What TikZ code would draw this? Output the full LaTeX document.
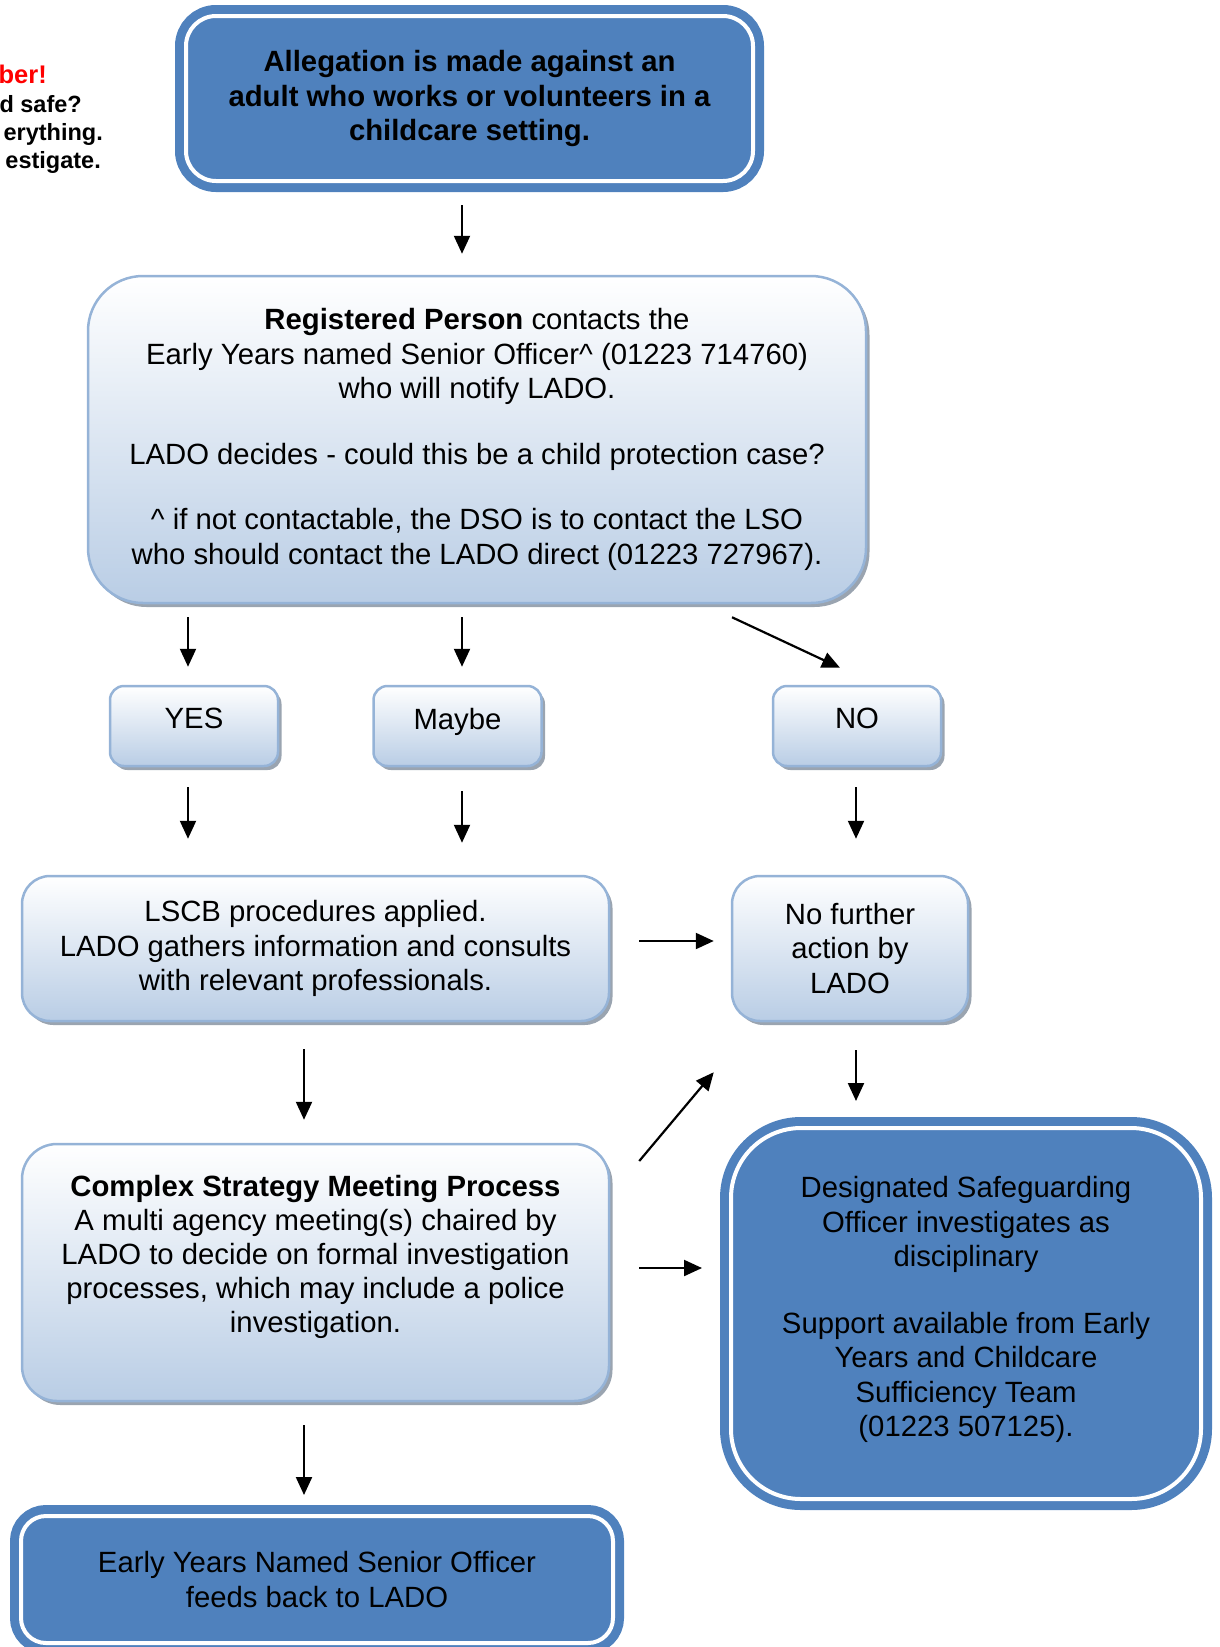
\documentclass[tikz,border=0pt]{standalone}
\usepackage{fontspec}
\setmainfont{Liberation Sans}
\usetikzlibrary{arrows.meta,shadows,calc}
\definecolor{accent}{HTML}{4F81BD}
\definecolor{paleblue}{HTML}{B9CDE5}
\definecolor{edgeblue}{HTML}{95B3D7}
\definecolor{shadegrey}{HTML}{9AA4B0}
\newcommand\bodysize{\fontsize{29.3}{34.5}\selectfont}
\newcommand\notesize{\fontsize{23.5}{28}\selectfont}

\begin{document}
\begin{tikzpicture}[x=1pt,y=-1pt,
  lightbox/.style={draw=edgeblue, line width=2.5pt, top color=white, bottom color=paleblue,
    align=center, inner sep=0pt, font=\bodysize,
    drop shadow={shadow xshift=3.5pt, shadow yshift=-4pt, fill=shadegrey, opacity=1}},
  darkbox/.style={fill=accent, draw=white, line width=4pt,
    preaction={draw=accent, line width=22pt},
    align=center, inner sep=0pt, font=\bodysize},
  arr/.style={line width=2.2pt, -{Triangle[length=18pt,width=16pt]}},
  note/.style={anchor=base east, inner sep=0pt, font=\notesize\bfseries}]

\clip (0,0) rectangle (1220,1647);

% reminder notes at the left margin
\node[note, text=red, font=\fontsize{25.5}{30}\selectfont\bfseries] (n1) at (47,83) {ber!};
\node[note] (n2) at (82,112) {d safe?};
\node[note] (n3) at (103,140) {erything.};
\node[note] (n4) at (101,168) {estigate.};

% boxes
\node[darkbox, rounded corners=30pt, minimum width=567pt, minimum height=165pt, font=\bodysize\bfseries]
  (top) at (469.5,98.5) {Allegation is made against an\\adult who works or volunteers in a\\childcare setting.};

\node[lightbox, rounded corners=55pt, minimum width=778pt, minimum height=327pt]
  (reg) at (477,439.5) {\textbf{Registered Person} contacts the\\Early Years named Senior Officer\^{} (01223 714760)\\who will notify LADO.\\[31pt]LADO decides - could this be a child protection case?\\[31pt]\^{} if not contactable, the DSO is to contact the LSO\\who should contact the LADO direct (01223 727967).};

\node[lightbox, rounded corners=14pt, minimum width=168pt, minimum height=80pt]
  (yes) at (194,726) {YES\\[-19.5pt]};
\node[lightbox, rounded corners=14pt, minimum width=168pt, minimum height=80pt]
  (maybe) at (457.5,726) {Maybe\\[-19.5pt]};
\node[lightbox, rounded corners=14pt, minimum width=168pt, minimum height=80pt]
  (no) at (857,726) {NO\\[-19.5pt]};

\node[lightbox, rounded corners=28pt, minimum width=587pt, minimum height=145pt]
  (lscb) at (315.5,948.5) {LSCB procedures applied.\\LADO gathers information and consults\\with relevant professionals.};
\node[lightbox, rounded corners=28pt, minimum width=236pt, minimum height=145pt]
  (nfa) at (850,948.5) {No further\\action by\\LADO};

\node[lightbox, rounded corners=35pt, minimum width=587pt, minimum height=257pt, font=\fontsize{29.3}{34}\selectfont]
  (complex) at (315.5,1272.5) {\textbf{Complex Strategy Meeting Process}\\A multi agency meeting(s) chaired by\\LADO to decide on formal investigation\\processes, which may include a police\\investigation.\\[2.5pt]};

\node[darkbox, rounded corners=70pt, minimum width=470pt, minimum height=371pt]
  (dso) at (966,1313.5) {Designated Safeguarding\\Officer investigates as\\disciplinary\\[32pt]Support available from Early\\Years and Childcare\\Sufficiency Team\\(01223 507125).\\[-20.5pt]};

\node[darkbox, rounded corners=25pt, minimum width=592pt, minimum height=127pt]
  (bottom) at (317,1579.5) {Early Years Named Senior Officer\\feeds back to LADO};

% connectors
\draw[arr] ($(top.south)+(-7.5,22)$) -- ($(reg.north)+(-15,-21)$);
\draw[arr] ($(reg.south)+(-289,13)$) -- ($(yes.north)+(-6,-18)$);
\draw[arr] ($(reg.south)+(-15,13)$) -- ($(maybe.north)+(4.5,-18)$);
\draw[arr] ($(reg.south)+(255,13)$) -- ($(no.north)+(-17,-17)$);
\draw[arr] ($(yes.south)+(-6,20)$) -- ($(yes.south |- lscb.north)+(-6,-36)$);
\draw[arr] ($(maybe.south)+(4.5,24)$) -- ($(maybe.south |- lscb.north)+(4.5,-32)$);
\draw[arr] ($(no.south)+(-1,20)$) -- ($(no.south |- nfa.north)+(-1,-36)$);
\draw[arr] ($(lscb.east)+(29,-7.5)$) -- ($(nfa.west)+(-17,-7.5)$);
\draw[arr] ($(lscb.south)+(-11.5,27)$) -- ($(complex.north)+(-11.5,-23)$);
\draw[arr] ($(complex.east)+(29,-111.5)$) -- ($(nfa.south west)+(-17,50)$);
\draw[arr] ($(nfa.south)+(6,28)$) -- ($(nfa.south |- dso.north)+(6,-25)$);
\draw[arr] ($(complex.east)+(29,-4.5)$) -- ($(dso.west |- complex.east)+(-27,-4.5)$);
\draw[arr] ($(complex.south)+(-11.5,23)$) -- ($(bottom.north)+(-13,-19)$);
\end{tikzpicture}
\end{document}
